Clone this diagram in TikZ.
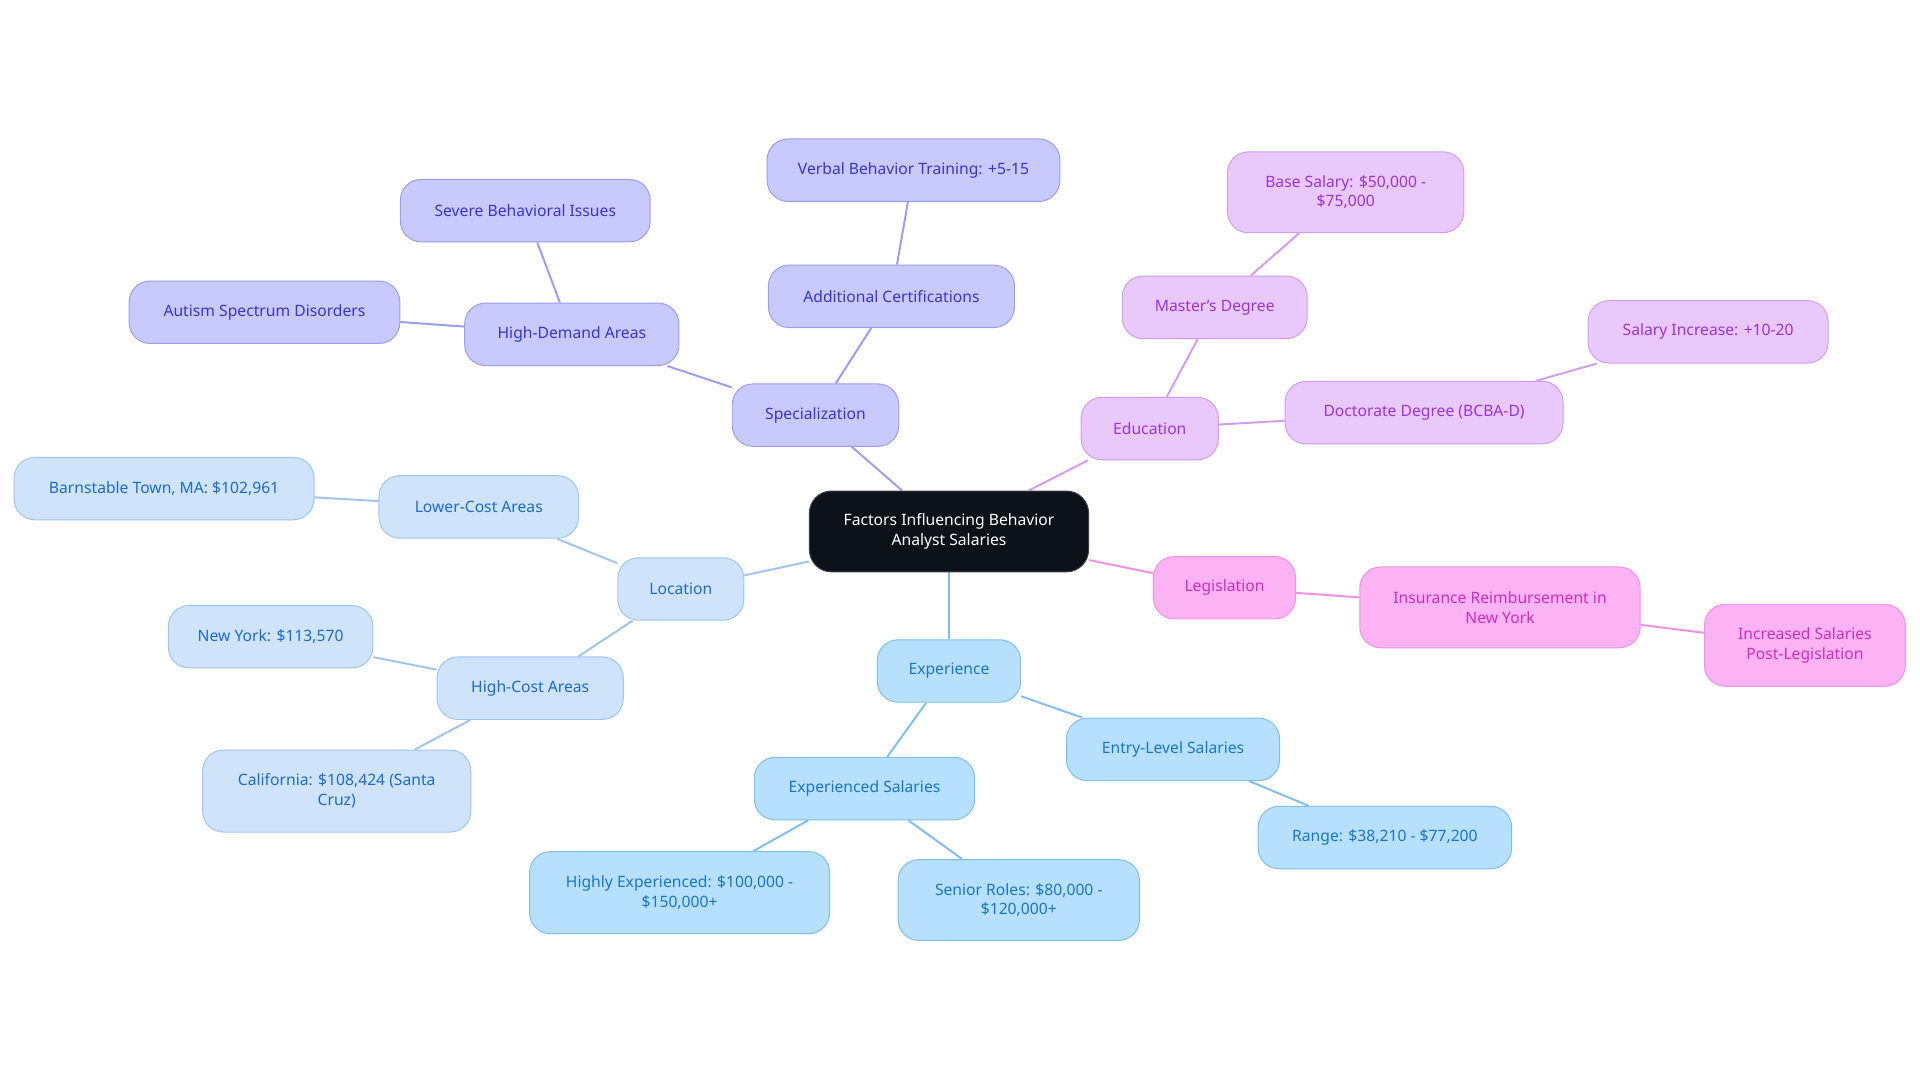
\documentclass[tikz,border=0pt]{standalone}
\usepackage{fontspec}
\setmainfont{Noto Sans}
\usetikzlibrary{backgrounds}

\definecolor{rootfill}{HTML}{0D1119}
\definecolor{specfill}{HTML}{C8C9FC}
\definecolor{specline}{HTML}{9B9DF0}
\definecolor{spectext}{HTML}{3A34D4}
\definecolor{edufill}{HTML}{E9C9FC}
\definecolor{eduline}{HTML}{D29CF0}
\definecolor{edutext}{HTML}{9A33DE}
\definecolor{legfill}{HTML}{FBB3F4}
\definecolor{legline}{HTML}{F191E4}
\definecolor{legtext}{HTML}{D22DBF}
\definecolor{locfill}{HTML}{CFE3FB}
\definecolor{locline}{HTML}{A0C4F0}
\definecolor{loctext}{HTML}{1D6AD0}
\definecolor{expfill}{HTML}{B6E0FD}
\definecolor{expline}{HTML}{80BEF0}
\definecolor{exptext}{HTML}{1A76C8}

\tikzset{
  topic/.style={rounded corners=17pt, minimum height=51pt, align=center,
    font=\fontsize{12.8}{16}\selectfont, line width=0.8pt, inner xsep=4pt},
  rootbox/.style={topic, fill=rootfill, draw=rootfill!80!white, text=white, rounded corners=18pt},
  specbox/.style={topic, fill=specfill, draw=specline, text=spectext},
  edubox/.style={topic, fill=edufill, draw=eduline, text=edutext},
  legbox/.style={topic, fill=legfill, draw=legline, text=legtext},
  locbox/.style={topic, fill=locfill, draw=locline, text=loctext},
  expbox/.style={topic, fill=expfill, draw=expline, text=exptext},
  link/.style={line width=1.6pt}
}

\begin{document}
\begin{tikzpicture}[x=1pt, y=-1pt]
		%%%%% START %%%%%
		\useasboundingbox (0, 0) rectangle (1568, 884.4);
		
		\node[rootbox, minimum width=228pt, minimum height=66pt] (root) at (775, 434) {Factors Influencing Behavior\\Analyst Salaries};
		
		% specialization
		\node[specbox, minimum width=136pt] (spec) at (666, 339) {Specialization};
		\node[specbox, minimum width=175pt] (demand) at (467, 273) {High-Demand Areas};
		\node[specbox, minimum width=204pt] (severe) at (429, 172) {Severe Behavioral Issues};
		\node[specbox, minimum width=221pt] (autism) at (216, 255) {Autism Spectrum Disorders};
		\node[specbox, minimum width=201pt] (cert) at (728, 242) {Additional Certifications};
		\node[specbox, minimum width=239pt] (verbal) at (746, 139) {Verbal Behavior Training: +5-15};
		
		% education
		\node[edubox, minimum width=112pt] (edu) at (939, 350) {Education};
		\node[edubox, minimum width=151pt] (master) at (992, 251) {Master's Degree};
		\node[edubox, minimum width=193pt, minimum height=66pt] (base) at (1099, 157) {Base Salary: \$50,000 -\\\$75,000};
		\node[edubox, minimum width=227pt] (doctor) at (1163, 337) {Doctorate Degree (BCBA-D)};
		\node[edubox, minimum width=196pt] (raise) at (1395, 271) {Salary Increase: +10-20};
		
		% legislation
		\node[legbox, minimum width=116pt] (law) at (1000, 480) {Legislation};
		\node[legbox, minimum width=229pt, minimum height=66pt] (insure) at (1225, 496) {Insurance Reimbursement in\\New York};
		\node[legbox, minimum width=164pt, minimum height=67pt] (postlaw) at (1474, 527) {Increased Salaries\\Post-Legislation};
		
		% location
		\node[locbox, minimum width=103pt] (loc) at (556, 481) {Location};
		\node[locbox, minimum width=163pt] (lowcost) at (391, 414) {Lower-Cost Areas};
		\node[locbox, minimum width=245pt] (barn) at (134, 399) {Barnstable Town, MA: \$102,961};
		\node[locbox, minimum width=152pt] (highcost) at (433, 562) {High-Cost Areas};
		\node[locbox, minimum width=167pt] (newyork) at (221, 520) {New York: \$113,570};
		\node[locbox, minimum width=219pt, minimum height=67pt] (calif) at (275, 646) {California: \$108,424 (Santa\\Cruz)};
		
		% experience
		\node[expbox, minimum width=117pt] (exp) at (775, 548) {Experience};
		\node[expbox, minimum width=174pt] (entry) at (958, 612) {Entry-Level Salaries};
		\node[expbox, minimum width=207pt] (range) at (1131, 684) {Range: \$38,210 - \$77,200};
		\node[expbox, minimum width=180pt] (senior) at (706, 644) {Experienced Salaries};
		\node[expbox, minimum width=245pt, minimum height=67pt] (highly) at (555, 729) {Highly Experienced: \$100,000 -\\\$150,000+};
		\node[expbox, minimum width=197pt, minimum height=66pt] (roles) at (832, 735) {Senior Roles: \$80,000 -\\\$120,000+};
		
		\begin{scope}[on background layer]
		\draw[link, specline] (root) -- (spec);
		\draw[link, specline] (spec) -- (demand);
		\draw[link, specline] (demand) -- (severe);
		\draw[link, specline] (demand) -- (autism);
		\draw[link, specline] (spec) -- (cert);
		\draw[link, specline] (cert) -- (verbal);
		
		\draw[link, eduline] (root) -- (edu);
		\draw[link, eduline] (edu) -- (master);
		\draw[link, eduline] (master) -- (base);
		\draw[link, eduline] (edu) -- (doctor);
		\draw[link, eduline] (doctor) -- (raise);
		
		\draw[link, legline] (root) -- (law);
		\draw[link, legline] (law) -- (insure);
		\draw[link, legline] (insure) -- (postlaw);
		
		\draw[link, locline] (root) -- (loc);
		\draw[link, locline] (loc) -- (lowcost);
		\draw[link, locline] (lowcost) -- (barn);
		\draw[link, locline] (loc) -- (highcost);
		\draw[link, locline] (highcost) -- (newyork);
		\draw[link, locline] (highcost) -- (calif);
		
		\draw[link, expline] (root) -- (exp);
		\draw[link, expline] (exp) -- (entry);
		\draw[link, expline] (entry) -- (range);
		\draw[link, expline] (exp) -- (senior);
		\draw[link, expline] (senior) -- (highly);
		\draw[link, expline] (senior) -- (roles);
		\end{scope}
		
		%%%%% END %%%%%
	\end{tikzpicture}
\end{document}
